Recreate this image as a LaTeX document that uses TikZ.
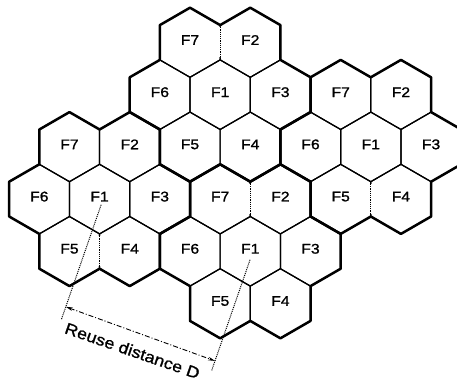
\documentclass[tikz,border=0pt]{standalone}
\usepackage{fontspec}
\newfontfamily\labelfont{Liberation Sans}[FakeStretch=1.12,FakeBold=1.2]
\usetikzlibrary{calc,arrows.meta}

\begin{document}
\begin{tikzpicture}[x=1pt,y=-1pt,
  celledge/.style={line width=1.2pt, line join=round},
  clusteredge/.style={line width=2.5pt, line join=round, line cap=round},
  dotedge/.style={line width=1.2pt, densely dotted},
  eraser/.style={white, line width=3pt},
  celllabel/.style={font=\labelfont\fontsize{14}{14}\selectfont, inner sep=0pt},
  reuselabel/.style={font=\labelfont\fontsize{16}{16}\selectfont, inner sep=0pt},
  extline/.style={line width=1pt, densely dotted},
  dimline/.style={line width=0.9pt, dash pattern=on 5pt off 2pt on 1pt off 2pt,
    {Stealth[length=7pt,width=3.5pt]}-{Stealth[length=7pt,width=3.5pt]}},
]
\useasboundingbox (0,0) rectangle (457,382);
\clip (0,0) rectangle (457,382);

% hexagon geometry: side 34.8, width 60.27, row pitch 52.2
\def\hs{34.8}
\def\hw{60.27}

% cells: column index / row / channel group
\foreach \m/\r/\t in {
  0/1/F7, 2/1/F2,
  -1/2/F6, 1/2/F1, 3/2/F3, 5/2/F7, 7/2/F2,
  -4/3/F7, -2/3/F2, 0/3/F5, 2/3/F4, 4/3/F6, 6/3/F1, 8/3/F3,
  -5/4/F6, -3/4/F1, -1/4/F3, 1/4/F7, 3/4/F2, 5/4/F5, 7/4/F4,
  -4/5/F5, -2/5/F4, 0/5/F6, 2/5/F1, 4/5/F3,
  1/6/F5, 3/6/F4} {
  \pgfmathsetmacro\cx{190+(\m)*30.135}
  \pgfmathsetmacro\cy{42.5+(\r-1)*52.2}
  \coordinate (h\r\m) at (\cx,\cy);
  \draw[celledge, shift={(\cx,\cy)}]
    (30:\hs) -- (90:\hs) -- (150:\hs) -- (210:\hs) -- (270:\hs) -- (330:\hs) -- cycle;
  \node[celllabel] (l\r\m) at (\cx,\cy-2.5) {\t};
}

% faint (dotted) inner edges
\foreach \a/\b in {h10/h12, h41/h43, h45/h47, h5-4/h5-2} {
  \draw[eraser] ($(\a)!.5!(\b)+(0,-15)$) -- ($(\a)!.5!(\b)+(0,15)$);
  \draw[dotedge] ($(\a)!.5!(\b)+(0,-17.4)$) -- ($(\a)!.5!(\b)+(0,17.4)$);
}

% outlines of the four seven-cell clusters
\foreach \c in {h21, h36, h4-3, h52} {
  \draw[clusteredge] ($(\c)+(0:\hw)+(-90:\hs)$)
    \foreach \d in {0,60,...,300} {
      -- ($(\c)+(\d:\hw)+(\d-90:\hs)$)
      -- ($(\c)+(\d:\hw)+(\d-30:\hs)$)
      -- ($(\c)+(\d:\hw)+(\d+30:\hs)$)
    } -- cycle;
}

% reuse distance between the two F1 cells
\coordinate (pL) at ($(h4-3)+(3.5,0)$);
\coordinate (pR) at ($(h52)+(2.7,0)$);
\coordinate (eL1) at ($(pL)+6*(-0.3273,0.9449)$);
\coordinate (eL2) at ($(pL)+128*(-0.3273,0.9449)$);
\coordinate (eR1) at ($(pR)+9*(-0.3273,0.9449)$);
\coordinate (eR2) at ($(pR)+126*(-0.3273,0.9449)$);
\coordinate (aL) at ($(pL)+114*(-0.3273,0.9449)$);
\coordinate (aR) at ($(pR)+116*(-0.3273,0.9449)$);
\draw[extline] (eL1) -- (eL2);
\draw[extline] (eR1) -- (eR2);
\draw[dimline] (aL) -- (aR);
\node[reuselabel, rotate=-19.1] (dlabel)
  at ($(pL)!.5!(pR)+133.5*(-0.3273,0.9449)+-2*(0.9449,0.3273)$) {Reuse distance D};
\end{tikzpicture}
\end{document}
